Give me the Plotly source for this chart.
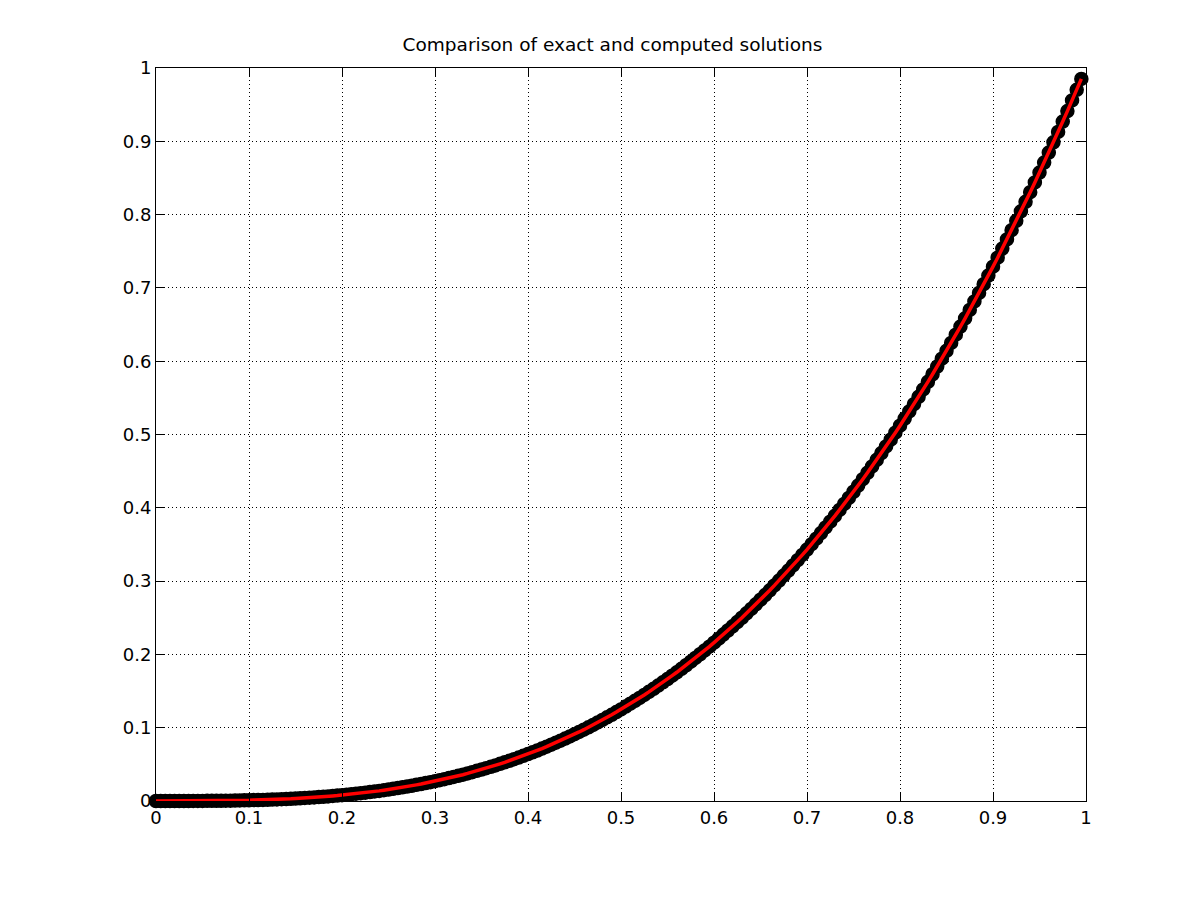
import plotly.graph_objects as go

x_vals = [
    0.000, 0.005, 0.010, 0.015, 0.020, 0.025, 0.030, 0.035, 0.040, 0.045,
    0.050, 0.055, 0.060, 0.065, 0.070, 0.075, 0.080, 0.085, 0.090, 0.095,
    0.100, 0.105, 0.110, 0.115, 0.120, 0.125, 0.130, 0.135, 0.140, 0.145,
    0.150, 0.155, 0.160, 0.165, 0.170, 0.175, 0.180, 0.185, 0.190, 0.195,
    0.200, 0.205, 0.210, 0.215, 0.220, 0.225, 0.230, 0.235, 0.240, 0.245,
    0.250, 0.255, 0.260, 0.265, 0.270, 0.275, 0.280, 0.285, 0.290, 0.295,
    0.300, 0.305, 0.310, 0.315, 0.320, 0.325, 0.330, 0.335, 0.340, 0.345,
    0.350, 0.355, 0.360, 0.365, 0.370, 0.375, 0.380, 0.385, 0.390, 0.395,
    0.400, 0.405, 0.410, 0.415, 0.420, 0.425, 0.430, 0.435, 0.440, 0.445,
    0.450, 0.455, 0.460, 0.465, 0.470, 0.475, 0.480, 0.485, 0.490, 0.495,
    0.500, 0.505, 0.510, 0.515, 0.520, 0.525, 0.530, 0.535, 0.540, 0.545,
    0.550, 0.555, 0.560, 0.565, 0.570, 0.575, 0.580, 0.585, 0.590, 0.595,
    0.600, 0.605, 0.610, 0.615, 0.620, 0.625, 0.630, 0.635, 0.640, 0.645,
    0.650, 0.655, 0.660, 0.665, 0.670, 0.675, 0.680, 0.685, 0.690, 0.695,
    0.700, 0.705, 0.710, 0.715, 0.720, 0.725, 0.730, 0.735, 0.740, 0.745,
    0.750, 0.755, 0.760, 0.765, 0.770, 0.775, 0.780, 0.785, 0.790, 0.795,
    0.800, 0.805, 0.810, 0.815, 0.820, 0.825, 0.830, 0.835, 0.840, 0.845,
    0.850, 0.855, 0.860, 0.865, 0.870, 0.875, 0.880, 0.885, 0.890, 0.895,
    0.900, 0.905, 0.910, 0.915, 0.920, 0.925, 0.930, 0.935, 0.940, 0.945,
    0.950, 0.955, 0.960, 0.965, 0.970, 0.975, 0.980, 0.985, 0.990, 0.995,
]

computed_vals = [
    0.0000, 0.0000, 0.0000, 0.0000, 0.0000, 0.0000, 0.0000, 0.0000, 0.0001, 0.0001,
    0.0001, 0.0002, 0.0002, 0.0003, 0.0003, 0.0004, 0.0005, 0.0006, 0.0007, 0.0009,
    0.0010, 0.0012, 0.0013, 0.0015, 0.0017, 0.0020, 0.0022, 0.0025, 0.0027, 0.0030,
    0.0034, 0.0037, 0.0041, 0.0045, 0.0049, 0.0054, 0.0058, 0.0063, 0.0069, 0.0074,
    0.0080, 0.0086, 0.0093, 0.0099, 0.0106, 0.0114, 0.0122, 0.0130, 0.0138, 0.0147,
    0.0156, 0.0166, 0.0176, 0.0186, 0.0197, 0.0208, 0.0220, 0.0231, 0.0244, 0.0257,
    0.0270, 0.0284, 0.0298, 0.0313, 0.0328, 0.0343, 0.0359, 0.0376, 0.0393, 0.0411,
    0.0429, 0.0447, 0.0467, 0.0486, 0.0507, 0.0527, 0.0549, 0.0571, 0.0593, 0.0616,
    0.0640, 0.0664, 0.0689, 0.0715, 0.0741, 0.0768, 0.0795, 0.0823, 0.0852, 0.0881,
    0.0911, 0.0942, 0.0973, 0.1005, 0.1038, 0.1072, 0.1106, 0.1141, 0.1176, 0.1213,
    0.1250, 0.1288, 0.1327, 0.1366, 0.1406, 0.1447, 0.1489, 0.1531, 0.1575, 0.1619,
    0.1664, 0.1710, 0.1756, 0.1804, 0.1852, 0.1901, 0.1951, 0.2002, 0.2054, 0.2106,
    0.2160, 0.2214, 0.2270, 0.2326, 0.2383, 0.2441, 0.2500, 0.2560, 0.2621, 0.2683,
    0.2746, 0.2810, 0.2875, 0.2941, 0.3008, 0.3075, 0.3144, 0.3214, 0.3285, 0.3357,
    0.3430, 0.3504, 0.3579, 0.3655, 0.3732, 0.3811, 0.3890, 0.3971, 0.4052, 0.4135,
    0.4219, 0.4304, 0.4390, 0.4477, 0.4565, 0.4655, 0.4746, 0.4837, 0.4930, 0.5025,
    0.5120, 0.5217, 0.5314, 0.5413, 0.5514, 0.5615, 0.5718, 0.5822, 0.5927, 0.6034,
    0.6141, 0.6250, 0.6361, 0.6472, 0.6585, 0.6699, 0.6815, 0.6932, 0.7050, 0.7169,
    0.7290, 0.7412, 0.7536, 0.7661, 0.7787, 0.7915, 0.8044, 0.8174, 0.8306, 0.8439,
    0.8574, 0.8710, 0.8847, 0.8986, 0.9127, 0.9269, 0.9412, 0.9557, 0.9703, 0.9851,
]

exact_vals = list(computed_vals)

title_text = "Comparison of exact and computed solutions"
tick_vals = [0, 0.1, 0.2, 0.3, 0.4, 0.5, 0.6, 0.7, 0.8, 0.9, 1]
tick_text = ["0", "0.1", "0.2", "0.3", "0.4", "0.5", "0.6", "0.7", "0.8", "0.9", "1"]

FONT = "DejaVu Sans, Liberation Sans, Arial, sans-serif"

fig = go.Figure()
fig.add_trace(go.Scatter(
    x=x_vals, y=computed_vals, mode="markers", name="computed",
    marker=dict(symbol="circle", size=13, color="black",
                line=dict(color="black", width=1.5)),
    cliponaxis=False, showlegend=False,
))
fig.add_trace(go.Scatter(
    x=x_vals, y=exact_vals, mode="lines", name="exact",
    line=dict(color="#ff0000", width=3.5),
    cliponaxis=False, showlegend=False,
))

axis_common = dict(
    range=[0, 1], tickmode="array", tickvals=tick_vals, ticktext=tick_text,
    showgrid=True, gridcolor="black", gridwidth=1, griddash="1px,3px",
    zeroline=False, showline=True, linecolor="black", linewidth=1,
    mirror="ticks", ticks="inside", ticklen=9, tickwidth=1, tickcolor="black",
    tickfont=dict(family=FONT, size=18, color="black"),
)

fig.update_layout(
    width=1200, height=901,
    margin=dict(l=148, r=122, t=60, b=108),
    paper_bgcolor="white", plot_bgcolor="white",
    title=dict(text=title_text, x=604.5 / 1200, xanchor="center",
               y=1 - 37 / 901, yanchor="middle",
               font=dict(family=FONT, size=18.5, color="black")),
    xaxis=dict(**axis_common),
    yaxis=dict(**axis_common),
)

fig.write_html("out.html")
